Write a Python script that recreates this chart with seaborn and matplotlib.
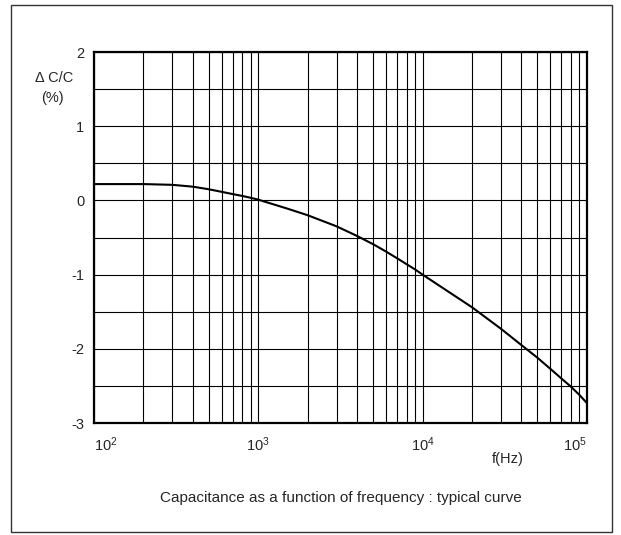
import numpy as np
import pandas as pd
import matplotlib
matplotlib.use("Agg")
import matplotlib.pyplot as plt
import seaborn as sns
from matplotlib.patches import Rectangle
from matplotlib.ticker import LogLocator, MultipleLocator, NullFormatter

# frequency (Hz) and capacitance change (%)
freq = [100, 200, 300, 400, 500, 600, 700, 800, 900, 1000, 1500, 2000, 3000, 4000,
        5000, 6000, 7000, 8000, 9000, 10000, 20000, 30000, 40000, 50000, 60000,
        70000, 80000, 90000, 100000]
dcc = [0.22, 0.22, 0.21, 0.185, 0.15, 0.115, 0.085, 0.06, 0.035, 0.01, -0.11, -0.2,
       -0.35, -0.48, -0.59, -0.69, -0.78, -0.86, -0.93, -1.0, -1.44, -1.73, -1.95,
       -2.12, -2.27, -2.4, -2.51, -2.62, -2.73]

x_ticks = [1e2, 1e3, 1e4, 1e5]
x_tick_labels = [r"$\mathregular{10^{2}}$", r"$\mathregular{10^{3}}$",
                 r"$\mathregular{10^{4}}$", r"$\mathregular{10^{5}}$"]
y_ticks = [-3, -2, -1, 0, 1, 2]

sns.set_style("white")
plt.rcParams["font.family"] = ["Liberation Sans", "DejaVu Sans"]
plt.rcParams["mathtext.default"] = "regular"

df = pd.DataFrame({"f": freq, "dcc": dcc})

fig = plt.figure(figsize=(6.21, 5.35), dpi=100)
ax = fig.add_axes([0.1514, 0.2093, 0.7936, 0.6935])

sns.lineplot(data=df, x="f", y="dcc", ax=ax, color="black", linewidth=1.5)

ax.set_xscale("log")
ax.set_xlim(1e2, 1e5)
ax.set_ylim(-3, 2)

ax.xaxis.set_major_locator(LogLocator(base=10))
ax.xaxis.set_minor_locator(LogLocator(base=10, subs=np.arange(2, 10)))
ax.xaxis.set_minor_formatter(NullFormatter())
ax.set_xticks(x_ticks)
ax.set_xticklabels(x_tick_labels)
ax.set_yticks(y_ticks)
ax.set_yticklabels([str(v) for v in y_ticks])
ax.yaxis.set_minor_locator(MultipleLocator(0.5))

ax.grid(which="both", color="black", linewidth=0.8)
ax.tick_params(which="both", length=0, labelsize=10.5, pad=7)
ax.tick_params(axis="x", pad=9)

xl = ax.get_xticklabels()
xl[0].set_ha("left")
xl[-1].set_ha("right")

for s in ax.spines.values():
    s.set_color("black")
    s.set_linewidth(1.6)

ax.set_xlabel("")
ax.set_ylabel("")

fig.text(73 / 621, 1 - 78 / 535, "\u0394 C/C", ha="right", va="center", fontsize=10.5)
fig.text(52 / 621, 1 - 98 / 535, "(%)", ha="center", va="center", fontsize=10.5)
fig.text(508 / 621, 1 - 459 / 535, "f(Hz)", ha="center", va="center", fontsize=10.5)
fig.text(341 / 621, 1 - 498 / 535, "Capacitance as a function of frequency : typical curve",
         ha="center", va="center", fontsize=11)

fig.patches.append(Rectangle((11 / 621, 3 / 535), 601 / 621, 527 / 535,
                             transform=fig.transFigure, fill=False,
                             edgecolor="#333333", linewidth=1.0))

fig.savefig("out.png", dpi=100)
plt.close(fig)
